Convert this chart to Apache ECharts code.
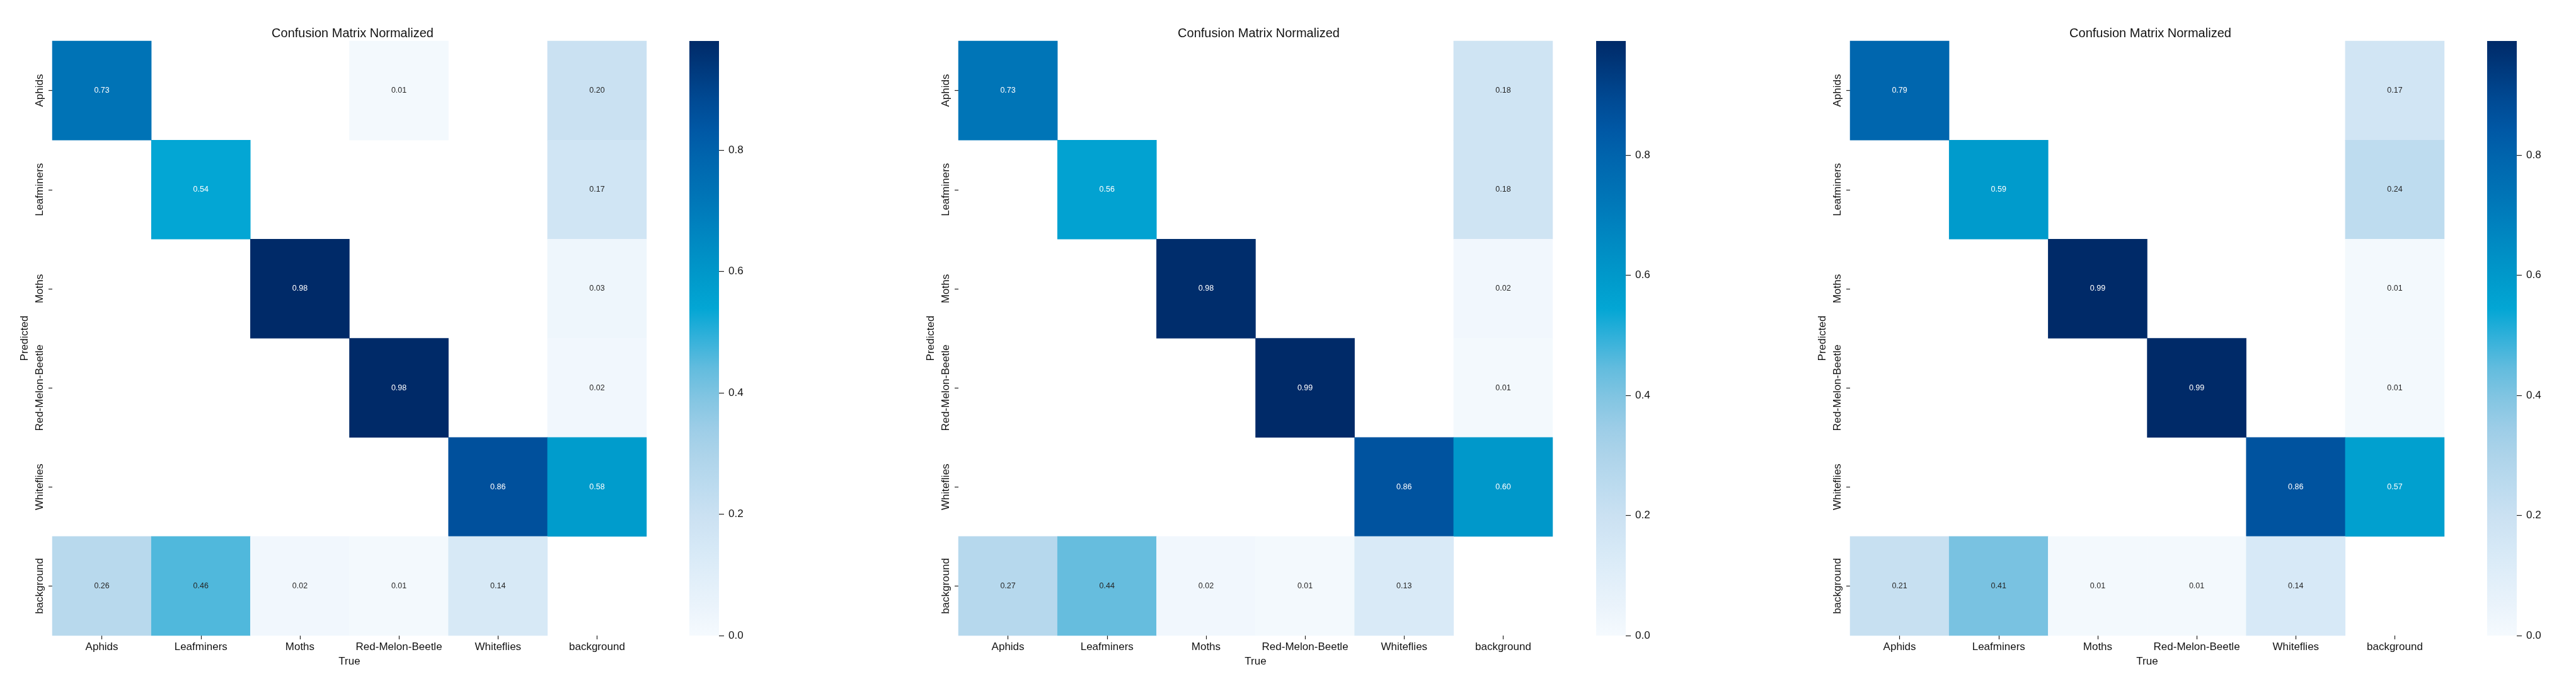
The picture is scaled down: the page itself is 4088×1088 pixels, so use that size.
<!DOCTYPE html>
<html><head><meta charset="utf-8">
<script src="https://cdn.jsdelivr.net/npm/echarts@6/dist/echarts.min.js"></script>
<style>html,body{margin:0;padding:0;background:#fff}#c{width:4088px;height:1088px}</style>
</head><body><div id="c"></div>
<script>
// ---- data ----
const classes = ['Aphids', 'Leafminers', 'Moths', 'Red-Melon-Beetle', 'Whiteflies', 'background'];
const titleText = 'Confusion Matrix Normalized';
const xName = 'True';
const yName = 'Predicted';
// rows = Predicted, cols = True (0 = empty cell)
const matrixA = [
  [0.73, 0, 0, 0.01, 0, 0.20],
  [0, 0.54, 0, 0, 0, 0.17],
  [0, 0, 0.98, 0, 0, 0.03],
  [0, 0, 0, 0.98, 0, 0.02],
  [0, 0, 0, 0, 0.86, 0.58],
  [0.26, 0.46, 0.02, 0.01, 0.14, 0]
];
const matrixB = [
  [0.73, 0, 0, 0, 0, 0.18],
  [0, 0.56, 0, 0, 0, 0.18],
  [0, 0, 0.98, 0, 0, 0.02],
  [0, 0, 0, 0.99, 0, 0.01],
  [0, 0, 0, 0, 0.86, 0.60],
  [0.27, 0.44, 0.02, 0.01, 0.13, 0]
];
const matrixC = [
  [0.79, 0, 0, 0, 0, 0.17],
  [0, 0.59, 0, 0, 0, 0.24],
  [0, 0, 0.99, 0, 0, 0.01],
  [0, 0, 0, 0.99, 0, 0.01],
  [0, 0, 0, 0, 0.86, 0.57],
  [0.21, 0.41, 0.01, 0.01, 0.14, 0]
];
const colorbarTicks = [0, 0.2, 0.4, 0.6, 0.8];

// ---- styling ----
const palette = ['#f5fafe','#eaf3fb','#e0eef9','#d5e8f6','#cbe1f2','#bcdbef','#aed4ea','#9ccde7','#82c5e2','#62bcde',
  '#33b1da','#03a6d4','#009acb','#008dc4','#007fbd','#0072b5','#0066ae','#0058a5','#004a94','#003a7e','#002a68'];
const FONT = 'Liberation Sans, Arial, sans-serif';
const layout = [
  { left: 83, cbLeft: 1094 },
  { left: 1521, cbLeft: 2533 },
  { left: 2936, cbLeft: 3947 }
];
const TOP = 65, SIZE = 943, CBW = 47;
const matrices = [matrixA, matrixB, matrixC];

const chart = echarts.init(document.getElementById('c'), null, { renderer: 'canvas' });
const grid = [], xAxis = [], yAxis = [], series = [], visualMap = [], title = [];
const gradStops = palette.map((c, i) => ({ offset: i / (palette.length - 1), color: c }));

matrices.forEach((m, p) => {
  const L = layout[p];
  const vmax = Math.max(...m.flat());
  const g = grid.length;
  grid.push({ left: L.left, top: TOP, width: SIZE, height: SIZE, containLabel: false });
  grid.push({ left: L.cbLeft, top: TOP, width: CBW, height: SIZE, containLabel: false });
  title.push({ text: titleText, left: L.left + SIZE / 2, top: 38, textAlign: 'center',
    textStyle: { fontFamily: FONT, fontSize: 20, fontWeight: 'normal', color: '#111' } });
  xAxis.push({ type: 'category', gridIndex: g, data: classes,
    axisLine: { show: false }, splitLine: { show: false },
    axisTick: { show: true, alignWithLabel: true, length: 6, lineStyle: { color: '#222', width: 1.2 } },
    axisLabel: { fontFamily: FONT, fontSize: 17, color: '#111', margin: 10, interval: 0 },
    name: xName, nameLocation: 'middle', nameGap: 33,
    nameTextStyle: { fontFamily: FONT, fontSize: 17, color: '#111' } });
  yAxis.push({ type: 'category', gridIndex: g, data: classes, inverse: true,
    axisLine: { show: false }, splitLine: { show: false },
    axisTick: { show: true, alignWithLabel: true, length: 6, lineStyle: { color: '#222', width: 1.2 } },
    axisLabel: { fontFamily: FONT, fontSize: 17, color: '#111', margin: 11, rotate: 90, interval: 0 },
    name: yName, nameLocation: 'middle', nameGap: 35, nameRotate: 90,
    nameTextStyle: { fontFamily: FONT, fontSize: 17, color: '#111' } });
  xAxis.push({ type: 'category', gridIndex: g + 1, data: ['cb'], show: false, boundaryGap: true });
  yAxis.push({ type: 'value', gridIndex: g + 1, min: 0, max: vmax, position: 'right',
    axisLine: { show: false }, splitLine: { show: false },
    axisTick: { show: true, length: 8, customValues: colorbarTicks, lineStyle: { color: '#222', width: 1.2 } },
    axisLabel: { fontFamily: FONT, fontSize: 17, color: '#111', margin: 15, customValues: colorbarTicks,
      formatter: v => v.toFixed(1) } });

  const data = [];
  m.forEach((row, r) => row.forEach((v, c) => {
    if (v > 0) data.push({ value: [c, r, v], label: { color: v / vmax > 0.49 ? '#ffffff' : '#262626' } });
  }));
  const si = series.length;
  series.push({ type: 'heatmap', xAxisIndex: g, yAxisIndex: g, data: data,
    label: { show: true, fontFamily: FONT, fontSize: 12.5, formatter: pr => pr.value[2].toFixed(2) },
    emphasis: { disabled: true }, progressive: 0 });
  visualMap.push({ type: 'continuous', show: false, min: 0, max: vmax, seriesIndex: si, dimension: 2,
    inRange: { color: palette } });
  series.push({ type: 'bar', xAxisIndex: g + 1, yAxisIndex: g + 1, data: [vmax], barWidth: '100%',
    silent: true,
    itemStyle: { color: new echarts.graphic.LinearGradient(0, 1, 0, 0, gradStops) } });
});

chart.setOption({ animation: false, backgroundColor: '#ffffff', title, grid, xAxis, yAxis, visualMap, series });
</script></body></html>
